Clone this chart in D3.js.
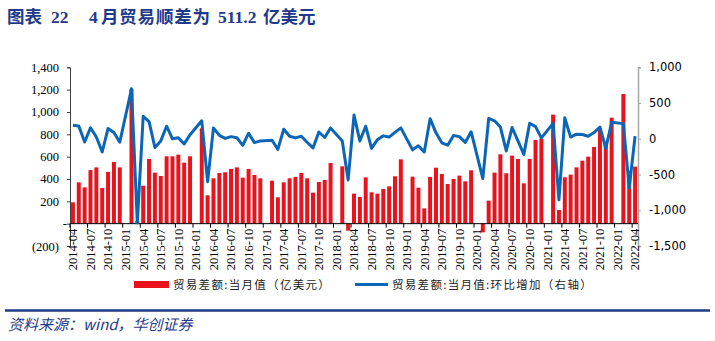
<!DOCTYPE html>
<html><head><meta charset="utf-8">
<script src="https://cdn.jsdelivr.net/npm/d3@7"></script>
<style>body{margin:0;background:#fff}svg{display:block}</style>
</head><body>
<svg id="chart" width="715" height="341"></svg>
<script>
// ---- data ----
const months = [];
for (let y = 2014; y <= 2022; y++) {
  for (let m = 1; m <= 12; m++) {
    if ((y === 2014 && m < 4) || (y === 2022 && m > 4)) continue;
    months.push(y + "-" + String(m).padStart(2, "0"));
  }
}
// 贸易差额:当月值（亿美元）; null = January (combined into February)
const balance = [
  191, 370, 325, 480, 504, 319, 463, 552, 504,
  null, 1203, 25, 340, 579, 457, 427, 603, 603, 618, 546, 603,
  null, 854, 254, 406, 454, 460, 490, 504, 412, 490, 436, 406,
  null, 385, 236, 370, 406, 418, 454, 406, 278, 373, 391, 543,
  null, 513, -63, 269, 239, 415, 281, 269, 310, 334, 424, 576,
  null, 421, 322, 137, 418, 501, 445, 355, 400, 430, 379, 478,
  null, -78, 206, 457, 621, 451, 609, 579, 361, 579, 749, 761,
  null, 976, 122, 415, 439, 504, 564, 600, 687, 852, 718, 949,
  null, 1161, 473, 511
];
// 贸易差额:当月值:环比增加（右轴）
const momChange = [
  190, 179, -45, 155, 24, -185, 144, 89, -48,
  null, 699, -1178, 315, 239, -122, -30, 176, 0, 15, -72, 57,
  null, 251, -600, 152, 48, 6, 30, 14, -92, 78, -54, -30,
  null, -21, -149, 134, 36, 12, 36, -48, -128, 95, 18, 152,
  null, -30, -576, 332, -30, 176, -134, -12, 41, 24, 90, 152,
  null, -155, -99, -185, 281, 83, -56, -90, 45, 30, -51, 99,
  null, -556, 284, 251, 164, -170, 158, -30, -218, 218, 170, 12,
  null, 215, -854, 293, 24, 65, 60, 36, 87, 165, -134, 231,
  null, 212, -688, 38
];
const leftTicks = [-200, 0, 200, 400, 600, 800, 1000, 1200, 1400];
const rightTicks = [-1500, -1000, -500, 0, 500, 1000];
const xTickLabels = [
  "2014-04","2014-07","2014-10","2015-01","2015-04","2015-07","2015-10",
  "2016-01","2016-04","2016-07","2016-10","2017-01","2017-04","2017-07","2017-10",
  "2018-01","2018-04","2018-07","2018-10","2019-01","2019-04","2019-07","2019-10",
  "2020-01","2020-04","2020-07","2020-10","2021-01","2021-04","2021-07","2021-10",
  "2022-01","2022-04"
];
const legendLabels = ["贸易差额:当月值（亿美元）", "贸易差额:当月值:环比增加（右轴）"];

// ---- drawing ----
const svg = d3.select("#chart");
const NAVY = "#1F3A8A", RED = "#E8131C", BLUE = "#0B66B5";
const serif = "'Liberation Serif','Times New Roman',serif";
const cjk = "'Noto Sans CJK SC','Noto Sans',sans-serif";

const x = d3.scaleBand().domain(months).range([70, 638]).padding(0);
const yL = d3.scaleLinear().domain([-200, 1400]).range([246, 67.3]);
const yR = d3.scaleLinear().domain([-1500, 1000]).range([246, 67.3]);
const bw = x.bandwidth() * 0.68;

// title
const title = svg.append("text").attr("y", 23).attr("fill", NAVY)
  .attr("font-weight", "bold").attr("font-size", 17.5);
title.append("tspan").attr("x", 7).attr("font-family", cjk).text("图表");
title.append("tspan").attr("x", 51).attr("font-family", serif).text("22");
title.append("tspan").attr("x", 89).attr("font-family", serif).text("4");
title.append("tspan").attr("x", 101).attr("font-family", cjk).attr("letter-spacing", 0.8).text("月贸易顺差为");
title.append("tspan").attr("x", 218).attr("font-family", serif).attr("letter-spacing", 0).text("511.2");
title.append("tspan").attr("x", 263).attr("font-family", cjk).text("亿美元");

// bars
svg.append("g").selectAll("rect")
  .data(months.map((m, i) => ({m, v: balance[i]})).filter(d => d.v !== null))
  .join("rect")
  .attr("x", d => x(d.m) + (x.bandwidth() - bw) / 2)
  .attr("width", bw)
  .attr("y", d => Math.min(yL(d.v), yL(0)))
  .attr("height", d => Math.abs(yL(d.v) - yL(0)))
  .attr("fill", RED);

// left axis
const gL = svg.append("g").attr("transform", "translate(70,0)")
  .call(d3.axisLeft(yL).tickValues(leftTicks).tickSize(3).tickPadding(8)
    .tickFormat(v => v === 0 ? "-" : v < 0 ? "(" + d3.format(",")(-v) + ")" : d3.format(",")(v)));
gL.select(".domain").attr("stroke", "#404040");
gL.selectAll(".tick line").attr("stroke", "#404040");
gL.selectAll("text").attr("font-family", serif).attr("font-size", 12.5).attr("fill", "#000");
gL.selectAll(".tick").filter(d => d === 0).select("text").attr("x", -3);

// right axis
const gR = svg.append("g").attr("transform", "translate(638,0)")
  .call(d3.axisRight(yR).tickValues(rightTicks).tickSize(3).tickPadding(8)
    .tickFormat(v => (v < 0 ? "-" : "") + d3.format(",")(Math.abs(v))));
gR.select(".domain").attr("stroke", "#A6A6A6").attr("stroke-width", 1.5);
gR.selectAll(".tick line").attr("stroke", "#A6A6A6");
gR.selectAll("text").attr("font-family", "'DejaVu Sans',sans-serif").attr("font-size", 11.5).attr("fill", "#000");

// x axis at zero
const y0 = yL(0);
svg.append("line").attr("x1", 70).attr("x2", 638).attr("y1", y0).attr("y2", y0)
  .attr("stroke", "#000").attr("stroke-width", 1);
const xg = svg.append("g");
xTickLabels.forEach(lbl => {
  const bx = x(lbl);
  xg.append("line").attr("x1", bx).attr("x2", bx).attr("y1", y0).attr("y2", y0 + 4)
    .attr("stroke", "#000");
  xg.append("text")
    .attr("transform", `translate(${bx + x.bandwidth() / 2},${y0 + 5}) rotate(-90)`)
    .attr("text-anchor", "end").attr("dy", "0.35em")
    .attr("font-family", serif).attr("font-size", 12.5).attr("fill", "#000")
    .text(lbl);
});

// line
const lineData = months.map((m, i) => ({m, v: momChange[i]})).filter(d => d.v !== null);
svg.append("path").datum(lineData)
  .attr("fill", "none").attr("stroke", BLUE).attr("stroke-width", 3)
  .attr("stroke-linejoin", "round")
  .attr("d", d3.line().x(d => x(d.m) + x.bandwidth() / 2).y(d => yR(d.v)));

// legend
const lg = svg.append("g").attr("font-family", cjk).attr("font-size", 11.5).attr("fill", "#222")
  .attr("letter-spacing", 1.3);
lg.append("rect").attr("x", 134).attr("y", 281).attr("width", 35).attr("height", 7).attr("fill", RED);
lg.append("text").attr("x", 173).attr("y", 289).text(legendLabels[0]);
lg.append("line").attr("x1", 355).attr("x2", 388).attr("y1", 284.5).attr("y2", 284.5)
  .attr("stroke", BLUE).attr("stroke-width", 3);
lg.append("text").attr("x", 392).attr("y", 289).text(legendLabels[1]);

// footer
svg.append("line").attr("x1", 5).attr("x2", 710).attr("y1", 310.5).attr("y2", 310.5)
  .attr("stroke", NAVY).attr("stroke-width", 2.5);
svg.append("text").attr("x", 8).attr("y", 330).attr("fill", NAVY)
  .attr("font-family", cjk).attr("font-style", "italic").attr("font-size", 15)
  .text("资料来源：wind，华创证券");
</script>
</body></html>
